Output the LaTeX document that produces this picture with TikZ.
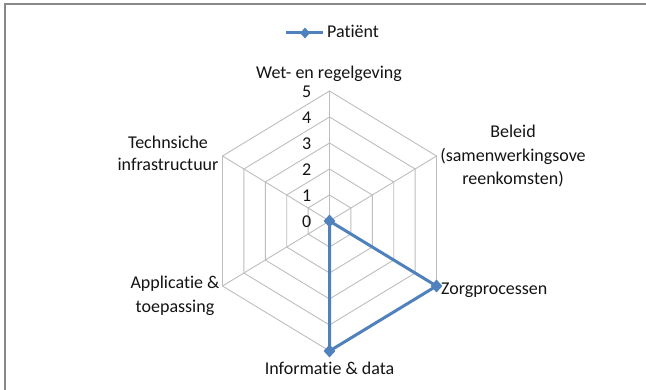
\documentclass[tikz,border=0pt]{standalone}
\usepackage{fontspec}
\setmainfont[Ligatures={NoCommon}]{Carlito}
\usetikzlibrary{shapes.geometric}
\definecolor{seriesblue}{HTML}{4F81BD}
\definecolor{gridgray}{HTML}{BEBEBE}
\definecolor{framegray}{HTML}{888888}
\definecolor{labeltext}{HTML}{141414}
\tikzset{
  gridline/.style={draw=gridgray, line width=0.9pt},
  series/.style={draw=seriesblue, line width=3pt, line join=round},
  marker/.style={diamond, fill=seriesblue, inner sep=0pt, minimum width=12pt, minimum height=13pt},
  lbl/.style={font=\fontsize{18}{22}\selectfont, text=labeltext, inner sep=0pt},
  tick/.style={lbl, anchor=east},
}
\begin{document}
\begin{tikzpicture}[x=1pt,y=-1pt]
\useasboundingbox (0,0) rectangle (646,390);
\fill[white] (0,0) rectangle (646,390);

% chart frame (top and left edges)
\draw[framegray, line width=2pt] (5,390) -- (5,4.5) -- (646,4.5);

% centre of the radar
\coordinate (c) at (329.5,221);

% concentric hexagons for levels 1..5
\foreach \k in {1,...,5}
  \draw[gridline] ([shift={(0,-26*\k)}]c) -- ([shift={(21.4*\k,-13*\k)}]c)
     -- ([shift={(21.4*\k,13*\k)}]c) -- ([shift={(0,26*\k)}]c)
     -- ([shift={(-21.4*\k,13*\k)}]c) -- ([shift={(-21.4*\k,-13*\k)}]c) -- cycle;

% spokes
\foreach \dx/\dy in {0/-26, 21.4/-13, 21.4/13, 0/26, -21.4/13, -21.4/-13}
  \draw[gridline] (c) -- ([shift={(5*\dx,5*\dy)}]c);

% scale labels
\foreach \k in {0,...,5}
  \node[tick] (t\k) at ([shift={(-18,-26*\k+0.5)}]c) {\k};

% axis labels
\node[lbl, anchor=base] (wet) at (329,79) {Wet- en regelgeving};
\node[lbl, anchor=base] (bel1) at (513,138) {Beleid};
\node[lbl, anchor=base] (bel2) at (513,161.5) {(samenwerkingsove};
\node[lbl, anchor=base] (bel3) at (513,185) {reenkomsten)};
\node[lbl, anchor=base west] (zorg) at (441,295) {Zorgprocessen};
\node[lbl, anchor=base] (info) at (329.5,375) {Informatie \& data};
\node[lbl, anchor=base] (tech1) at (168,149) {Technsiche};
\node[lbl, anchor=base] (tech2) at (168,171) {infrastructuur};
\node[lbl, anchor=base] (app1) at (175,289) {Applicatie \&};
\node[lbl, anchor=base] (app2) at (175,313) {toepassing};

% data series: values 0,0,5,5,0,0
\coordinate (p2) at ([shift={(107,65)}]c);
\coordinate (p3) at ([shift={(0,130)}]c);
\draw[series] (c) -- (p2) -- (p3) -- cycle;
\node[marker] (m0) at (c) {};
\node[marker] (m2) at (p2) {};
\node[marker] (m3) at (p3) {};

% legend
\coordinate (lg1) at (286,33);
\coordinate (lg2) at (323,33);
\draw[series] (lg1) -- (lg2);
\node[marker, minimum width=10pt, minimum height=11pt] (lgm) at (305,33) {};
\node[lbl, anchor=base west] (lgt) at (327,38) {Patiënt};
\end{tikzpicture}
\end{document}
